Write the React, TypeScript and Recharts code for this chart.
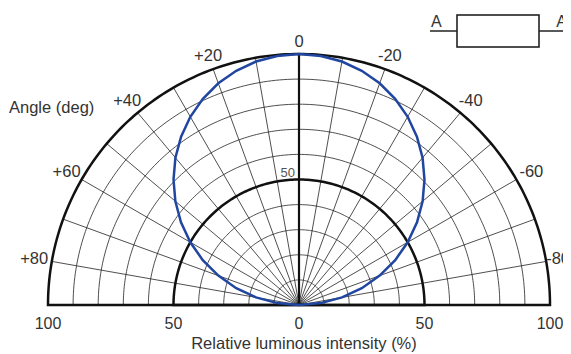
import React from "react";
import { PolarAngleAxis, PolarGrid, PolarRadiusAxis, Radar, RadarChart } from "recharts";

// angle (deg) of each measurement, + to the left, 0 at the top
const angles = [
  -90, -85, -80, -75, -70, -65, -60, -55, -50, -45, -40, -35, -30, -25, -20, -15, -10, -5, 0,
  5, 10, 15, 20, 25, 30, 35, 40, 45, 50, 55, 60, 65, 70, 75, 80, 85, 90,
];
// relative luminous intensity (%)
const intensity = [
  0, 8.7, 17.4, 25.9, 34.2, 42.3, 50, 57.4, 64.3, 70.7, 76.6, 81.9, 86.6, 90.6, 94, 96.6, 98.5, 99.6, 100,
  99.6, 98.5, 96.6, 94, 90.6, 86.6, 81.9, 76.6, 70.7, 64.3, 57.4, 50, 42.3, 34.2, 25.9, 17.4, 8.7, 0,
];
const angleTicks = [-80, -60, -40, -20, 0, 20, 40, 60, 80];
const ringsThin = [10, 20, 30, 40, 60, 70, 80, 90];
const ringsThick = [50, 100];
const spokeAngles = [-80, -70, -60, -50, -40, -30, -20, -10, 10, 20, 30, 40, 50, 60, 70, 80];
const thickSpokes = [-90, 0, 90];
const intensityTicks = [0, 50, 100];

const data = angles.map((a, i) => ({ angle: a, value: intensity[i] }));

const W = 563;
const H = 346;
const CX = 291;
const CY = 297;
const R = 251;
const FONT = "'Liberation Sans', Arial, Helvetica, sans-serif";
const TXT = "#333";
const BLUE = "#2046a0";

// data angle -> recharts screen angle, data radius -> px
const toScreen = (a: number) => 90 + a;
const toPx = (v: number) => (v / 100) * R;
const fineAngles: number[] = [];
for (let a = 0; a <= 180; a += 1) fineAngles.push(a);

const fmtAngle = (v: number) => (v > 0 ? `+${v}` : `${v}`);

const AngleTick = (props: any) => {
  const { x, y, payload } = props;
  // push the labels out a bit more on the sides, like the original
  const dx = x - CX;
  const dy = y - CY;
  const len = Math.sqrt(dx * dx + dy * dy) || 1;
  const r = R + 13 + 5 * Math.abs(dx / len);
  const py = CY + (dy / len) * r;
  // -80 sits against the right edge
  const atEdge = dx / len > 0.95;
  const px = atEdge ? W - 1 : CX + (dx / len) * r;
  return (
    <text
      x={px}
      y={py}
      dy="0.35em"
      textAnchor={atEdge ? "end" : "middle"}
      fontSize={16.5}
      fontFamily={FONT}
      fill={TXT}
    >
      {fmtAngle(payload.value)}
    </text>
  );
};

// the intensity scale runs both ways along the baseline; 50 is also marked on the 0 deg spoke
const IntensityTick = (props: any) => {
  const { x, y, payload } = props;
  const d = x - CX;
  return (
    <g fontFamily={FONT}>
      <text x={x} y={y + 24} textAnchor="middle" fontSize={16} fill={TXT}>
        {payload.value}
      </text>
      {d > 0 && (
        <text x={CX - d} y={y + 24} textAnchor="middle" fontSize={16} fill={TXT}>
          {payload.value}
        </text>
      )}
      {payload.value === 50 && (
        <text x={CX - 4} y={CY - d - 3} textAnchor="end" fontSize={13} fill="#555">
          {payload.value}
        </text>
      )}
    </g>
  );
};

export default function App() {
  return (
    <RadarChart
      width={W}
      height={H}
      data={data}
      cx={CX}
      cy={CY}
      outerRadius={R}
      startAngle={0}
      endAngle={180}
      margin={{ top: 0, right: 0, bottom: 0, left: 0 }}
    >
      <PolarGrid
        gridType="polygon"
        polarAngles={fineAngles}
        polarRadius={ringsThin.map(toPx)}
        radialLines={false}
        stroke="#222"
        strokeWidth={0.8}
        fill="none"
      />
      <PolarGrid
        gridType="polygon"
        polarAngles={spokeAngles.map(toScreen)}
        polarRadius={[]}
        stroke="#222"
        strokeWidth={0.8}
      />
      <PolarGrid
        gridType="polygon"
        polarAngles={thickSpokes.map(toScreen)}
        polarRadius={[]}
        stroke="#111"
        strokeWidth={2.2}
      />
      <PolarGrid
        gridType="polygon"
        polarAngles={fineAngles}
        polarRadius={ringsThick.map(toPx)}
        radialLines={false}
        stroke="#111"
        strokeWidth={2.5}
        fill="none"
      />
      <PolarAngleAxis
        dataKey="angle"
        type="number"
        domain={[-90, 90]}
        ticks={angleTicks}
        axisLine={false}
        tickLine={false}
        tickSize={15}
        tick={<AngleTick />}
      />
      <PolarRadiusAxis
        angle={0}
        type="number"
        domain={[0, 100]}
        ticks={intensityTicks}
        axisLine={false}
        tickLine={false}
        tick={<IntensityTick />}
      />
      <Radar
        dataKey="value"
        stroke={BLUE}
        strokeWidth={2.5}
        fill="none"
        fillOpacity={0}
        dot={false}
        isAnimationActive={false}
      />
      <text x={1} y={105} fontSize={16.5} fontFamily={FONT} fill={TXT}>
        Angle (deg)
      </text>
      <text x={CX + 5} y={341} textAnchor="middle" fontSize={16.5} fontFamily={FONT} fill={TXT}>
        Relative luminous intensity (%)
      </text>
      <g stroke="#222" strokeWidth={1.6} fill="none">
        <line x1={422} y1={23} x2={559} y2={23} />
        <rect x={449} y={7} width={82} height={32} fill="#fff" />
      </g>
      <text x={423} y={19} fontSize={16} fontFamily={FONT} fill={TXT}>
        A
      </text>
      <text x={W - 1} y={19} textAnchor="end" fontSize={16} fontFamily={FONT} fill={TXT}>
        A'
      </text>
    </RadarChart>
  );
}
